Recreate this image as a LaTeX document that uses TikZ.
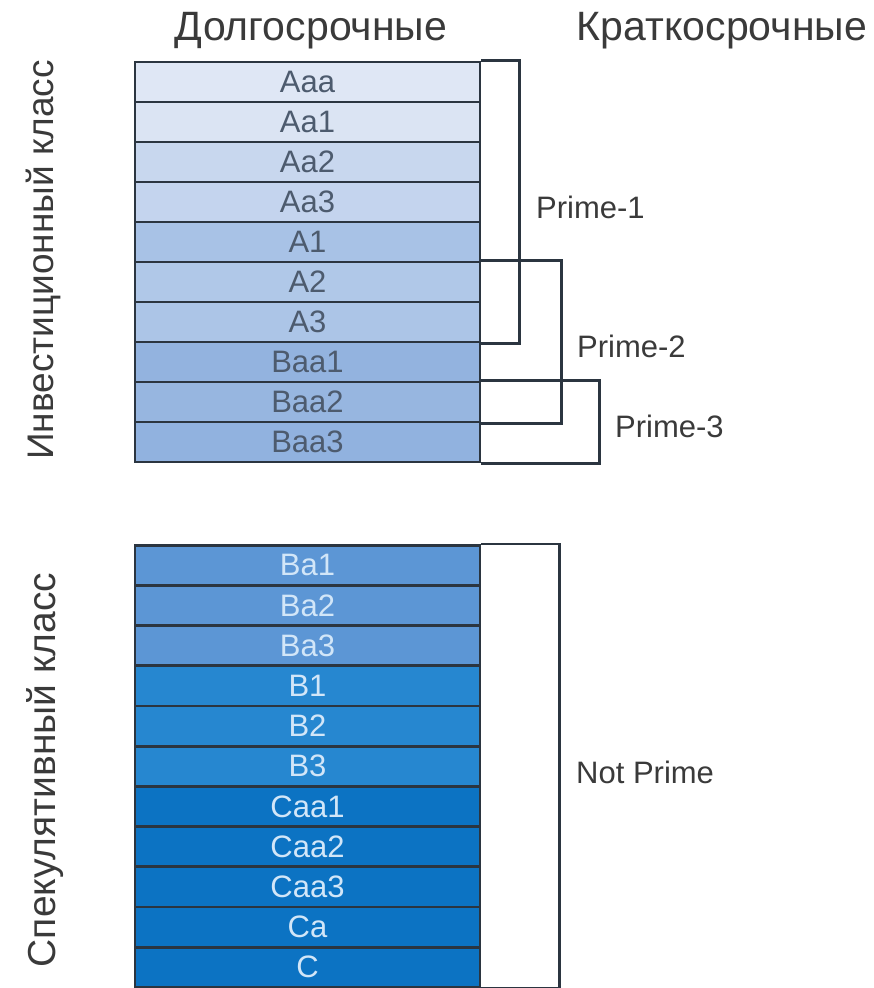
\documentclass[tikz,border=0pt]{standalone}
\usepackage{fontspec}
\setmainfont{Liberation Sans}
\usetikzlibrary{calc}
\definecolor{lineC}{HTML}{2B3540}
\definecolor{txtTop}{HTML}{4D5B6E}
\definecolor{txtBot}{HTML}{D2E6F8}
\definecolor{txtDark}{HTML}{3A3A3A}
\tikzset{
  row/.style={draw=lineC, line width=2.6pt, minimum width=345pt, minimum height=40pt, inner sep=0pt, font=\fontsize{31}{32}\selectfont},
  toprow/.style={row, text=txtTop},
  botrow/.style={row, text=txtBot},
  brk/.style={draw=lineC, line width=2.6pt},
  lbl/.style={text=txtDark, font=\fontsize{31}{32}\selectfont, anchor=base west, inner sep=0pt},
  head/.style={text=txtDark, font=\fontsize{41}{44}\selectfont, inner sep=0pt, anchor=base},
  side/.style={text=txtDark, inner sep=0pt, rotate=90, anchor=base}
}
\begin{document}
\begin{tikzpicture}[x=1pt,y=-1pt]
\useasboundingbox (0,0) rectangle (874,988);
% headers
\node[head] (h1) at (311,40) {Долгосрочные};
\node[head] (h2) at (722,40) {Краткосрочные};
% side labels
\node[side, font=\fontsize{37}{40}\selectfont] (s1) at (53,260) {Инвестиционный класс};
\node[side, font=\fontsize{39}{42}\selectfont] (s2) at (55,770) {Спекулятивный класс};
% top block
\foreach \t/\c [count=\i] in {Aaa/DFE7F5, Aa1/DBE4F3, Aa2/C8D7EE, Aa3/C4D4EE, A1/A8C2E6, A2/B0C8E8, A3/ACC5E7, Baa1/93B3DF, Baa2/97B6E0, Baa3/91B2DF}{
  \definecolor{rc}{HTML}{\c}
  \node[toprow, fill=rc] (t\i) at (307.5, 42+40*\i) {\t};
}
% bottom block
\foreach \t/\c [count=\i] in {Ba1/5C96D5, Ba2/5C96D5, Ba3/5C96D5, B1/2687D0, B2/2687D0, B3/2687D0, Caa1/0C73C3, Caa2/0C73C3, Caa3/0C73C3, Ca/0C73C3, C/0C73C3}{
  \definecolor{rc}{HTML}{\c}
  \node[botrow, fill=rc] (b\i) at (307.5, 525+40.2*\i) {\t};
}
% brackets
\draw[brk] (t1.north east) -- ($(t1.north east)+(38,0)$) |- (t7.south east);
\draw[brk] (t6.north east) -- ($(t6.north east)+(80,0)$) |- (t9.south east);
\draw[brk] (t9.north east) -- ($(t9.north east)+(118,0)$) |- (t10.south east);
\draw[brk] (b1.north east) -- ($(b1.north east)+(78,0)$) |- (b11.south east);
% labels
\node[lbl] (p1) at (536,218) {Prime-1};
\node[lbl] (p2) at (577,357) {Prime-2};
\node[lbl] (p3) at (615,437) {Prime-3};
\node[lbl] (np) at (576,783) {Not Prime};
\end{tikzpicture}
\end{document}
